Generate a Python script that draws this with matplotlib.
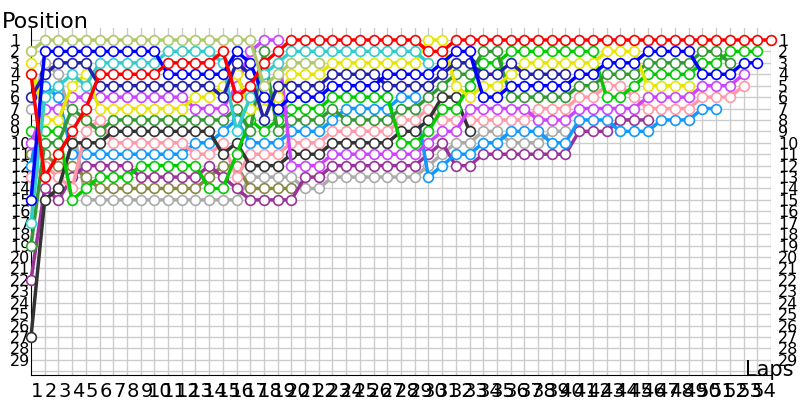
import matplotlib
matplotlib.use('Agg')
import matplotlib.pyplot as plt

# race position of every car, lap 0 (grid) onwards; list ends when the car stops
light_olive = [2] + [1]*16 + [5, 4, 3, 3, 3]
blue = ([15] + [2]*9 + [4]*5 + [2, 3, 6, 7] + [6]*3 + [5]*4 + [4]*4 + [3] + [2, 2]
        + [6, 6] + [5]*5 + [4, 4] + [3]*3 + [2]*4 + [4]*3 + [3, 3])
dark_blue = ([6, 4] + [3]*3 + [5]*9 + [6, 3, 4, 8, 5] + [5]*3 + [4]*4 + [5]*4 + [4]
             + [3, 3] + [4, 4] + [3] + [4]*4)
cyan = [17, 6, 5, 4, 5] + [3]*5 + [2]*4 + [3, 9, 6, 4, 3] + [2]*10 + [3]
red = [4, 13, 11, 9, 7] + [4]*5 + [3]*4 + [2, 6, 5, 3, 2] + [1]*10 + [2, 2] + [1]*24
yellow = ([3, 8, 8, 5, 4] + [7]*7 + [6, 6] + [5, 4, 7, 7, 6] + [4]*3 + [3]*7 + [1, 1]
          + [5, 6, 5, 5, 4] + [3]*6 + [2]*3 + [5]*4)
violet = ([10, 7, 7] + [6]*9 + [7]*3 + [5, 2, 1, 1] + [12]*3 + [11]*7 + [10, 9, 9, 7]
          + [7]*4 + [8]*3 + [7]*5 + [6]*4 + [5]*3 + [4])
dark_green = ([19, 10, 10, 7, 8, 9] + [8]*9 + [7, 9, 2, 9] + [8]*3 + [7] + [8]*4 + [7, 7]
              + [6, 5, 4, 4] + [2, 2] + [6]*5 + [5, 5] + [4]*3 + [3]*4 + [2, 2] + [3])
green = ([9, 9, 9, 15, 14] + [13]*3 + [12]*5 + [14, 14] + [11, 8, 9, 8] + [7]*3 + [6]*5
         + [10, 10] + [9, 7, 7, 5] + [3, 3] + [2]*7 + [6, 6, 5] + [4]*4 + [3, 3] + [2]*3)
black = [27, 15, 14, 10, 10, 10] + [9]*8 + [11, 10] + [12]*3 + [11]*3 + [10]*5 + [9, 9] + [8, 6, 6, 9]
pink = ([13, 12, 13, 14, 9, 8] + [10]*6 + [11, 11, 10, 13] + [11]*3 + [10]*3 + [9]*5 + [8, 8]
        + [7] + [8]*7 + [7]*3 + [6, 6] + [5, 5, 6] + [7]*4 + [6]*3 + [5])
light_blue = ([12, 5, 6] + [11]*9 + [10, 10, 9, 8] + [10]*3 + [9]*3 + [8] + [7]*4 + [6, 6]
              + [13, 12, 11, 11] + [10, 10] + [9]*3 + [10, 10] + [8]*3 + [9]*3 + [8]*3 + [7, 7])
purple = ([22, 14, 15, 13] + [12]*4 + [13]*5 + [12, 13, 14] + [15]*4 + [13, 13] + [12]*7
          + [11, 10, 12, 12] + [11]*7 + [9]*3 + [8]*3)
olive = [11, 11, 12, 12, 13] + [14]*8 + [13, 12, 12] + [14]*4
gray = [7, 3, 4, 8] + [15]*12 + [13]*4 + [14, 14] + [13]*7 + [12, 11, 10, 10] + [9, 9] + [10]*3 + [9, 9]

cars = [
    (gray, '#aaaaaa'), (olive, '#888844'), (purple, '#993399'), (light_blue, '#1199ff'),
    (pink, '#ff99aa'), (black, '#333333'), (green, '#00cc00'), (dark_green, '#339933'),
    (violet, '#cc44ff'), (yellow, '#e6e600'), (cyan, '#33cccc'), (dark_blue, '#2222aa'),
    (blue, '#0000ff'), (red, '#ff0000'), (light_olive, '#b0c86a'),
]

n_laps = 54
n_pos = 29
pos_labels = [str(i) for i in range(1, n_pos + 1)]
lap_labels = [str(i) for i in range(1, n_laps + 1)]

fig = plt.figure(figsize=(8, 4), dpi=100)
ax = fig.add_axes([31/800, 25/400, 740/800, 347/400])

for pos, col in cars:
    ax.plot(range(len(pos)), pos, color=col, lw=2.5, marker='o', ms=7,
            mfc='white', mec=col, mew=1.2, clip_on=False, zorder=3)

ax.set_xlim(0, n_laps)
ax.set_ylim(30.33, -0.05)

for x in range(1, n_laps + 1):
    ax.axvline(x, color='#cccccc', lw=1, zorder=1)
for y in range(1, n_pos + 2):
    ax.axhline(y, color='#cccccc', lw=1, zorder=1)

for side in ['top', 'right']:
    ax.spines[side].set_visible(False)

# left position labels, left-aligned near the figure edge
ax.set_yticks(range(1, n_pos + 1))
ax.set_yticklabels(pos_labels, ha='left')
ax.tick_params(axis='y', length=0, labelsize=11.5, pad=15)

# right position labels
ax2 = ax.twinx()
ax2.set_ylim(ax.get_ylim())
ax2.set_yticks(range(1, n_pos + 1))
ax2.set_yticklabels(pos_labels)
ax2.tick_params(axis='y', length=0, labelsize=11.5, pad=5)
for side in ['top', 'right', 'left', 'bottom']:
    ax2.spines[side].set_visible(False)

ax.set_xticks([i - 0.55 for i in range(1, n_laps + 1)])
ax.set_xticklabels(lap_labels)
ax.tick_params(axis='x', length=0, labelsize=14, pad=5)

fig.text(2/800, 1 - 28/400, 'Position', fontsize=16, va='baseline', ha='left')
fig.text(745/800, 1 - 376/400, 'Laps', fontsize=15, va='baseline', ha='left')

fig.savefig('out.png', dpi=100)
